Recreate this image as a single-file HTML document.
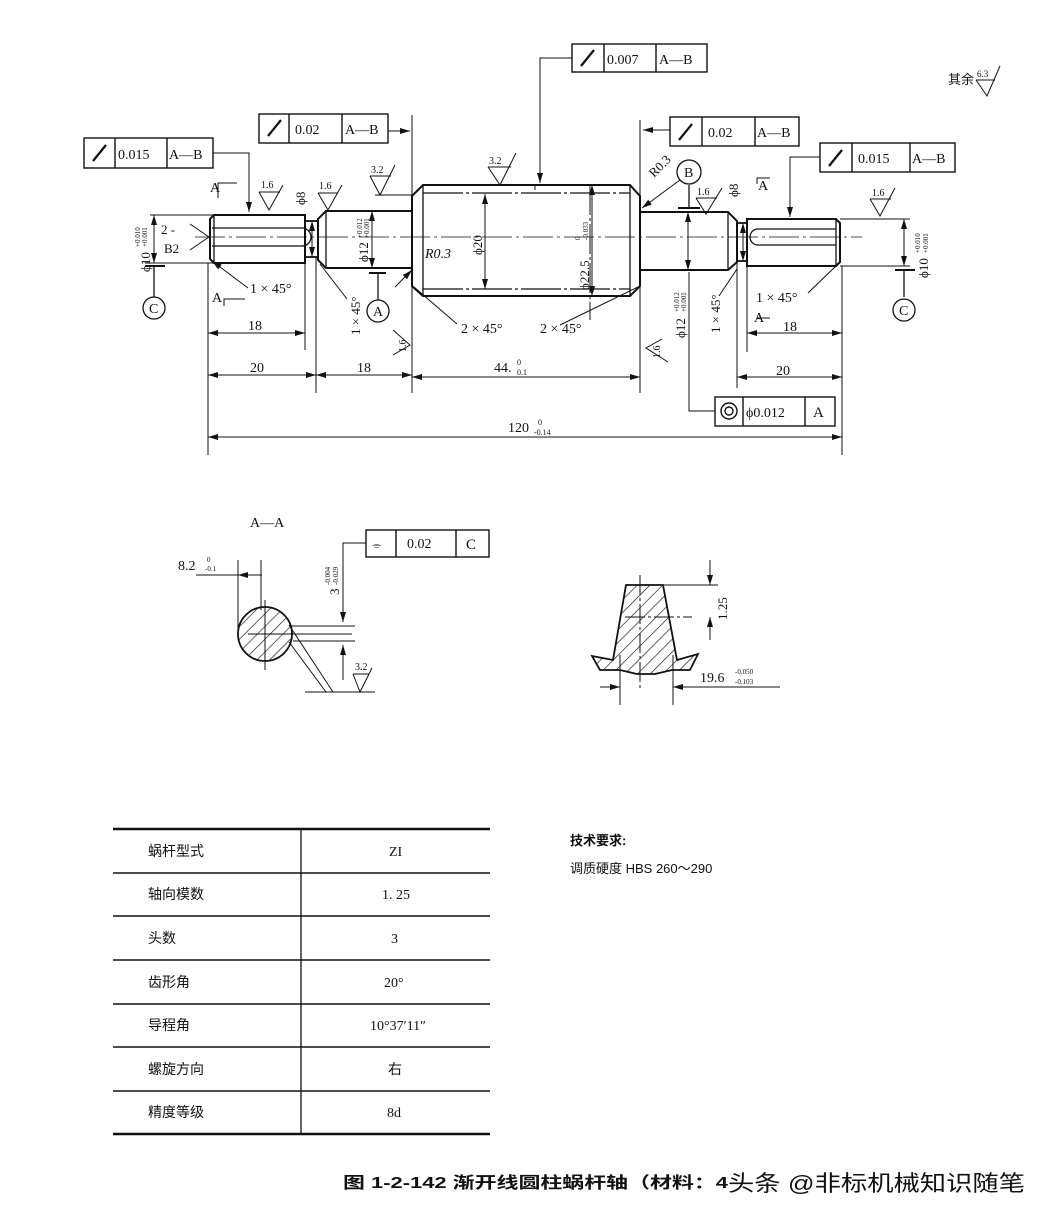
<!DOCTYPE html>
<html><head><meta charset="utf-8"><style>
html,body{margin:0;padding:0;background:#fff;}
svg{display:block}
text{font-family:"Liberation Serif","Noto Serif CJK SC",serif;fill:#111}
.c{font-family:"Liberation Sans","Noto Sans CJK SC",sans-serif}
</style></head><body>
<svg width="1050" height="1228" viewBox="0 0 1050 1228" xmlns="http://www.w3.org/2000/svg">
<defs>
<marker id="a" viewBox="0 0 10 6" refX="10" refY="3" markerWidth="10" markerHeight="6" orient="auto-start-reverse" markerUnits="userSpaceOnUse"><path d="M0,0L10,3L0,6z" fill="#111"/></marker>
<pattern id="h" width="9" height="9" patternUnits="userSpaceOnUse" patternTransform="rotate(45)"><line x1="0" y1="0" x2="0" y2="9" stroke="#111" stroke-width="1.3"/></pattern>
</defs>
<g stroke="#111" fill="none" stroke-width="1.3">
<line x1="195" y1="237" x2="862" y2="237" stroke-width="0.8" stroke-dasharray="30,4,3,4"/>
<path d="M214,215H305V263H214L210,259V219Z" stroke-width="2"/>
<line x1="214" y1="215" x2="214" y2="263"/>
<path d="M212,228H302A9,9 0 0 1 302,246H212" />
<rect x="305" y="221" width="13" height="36" stroke-width="1.8"/>
<path d="M318,219L326,211H412V268H326L318,260Z" stroke-width="2"/>
<line x1="326" y1="211" x2="326" y2="268"/>
<path d="M412,196L423,185H630L640,196V286L630,296H423L412,286Z" stroke-width="2"/>
<line x1="423" y1="185" x2="423" y2="296"/>
<line x1="630" y1="185" x2="630" y2="296"/>
<line x1="423" y1="193" x2="630" y2="193" stroke-dasharray="40,3,3,3"/>
<line x1="423" y1="289" x2="630" y2="289" stroke-dasharray="40,3,3,3"/>
<path d="M640,212H728L737,221V262L728,270H640Z" stroke-width="2"/>
<line x1="728" y1="212" x2="728" y2="270"/>
<rect x="737" y="223" width="10" height="38" stroke-width="1.8"/>
<path d="M747,219H836L840,223V262L836,266H747Z" stroke-width="2"/>
<line x1="836" y1="219" x2="836" y2="266"/>
<path d="M836,229H758A8,8 0 0 0 758,245H836"/>
<g stroke-width="1">
<line x1="208" y1="263" x2="208" y2="455"/>
<line x1="305" y1="263" x2="305" y2="350"/>
<line x1="316" y1="257" x2="316" y2="393"/>
<line x1="412" y1="115" x2="412" y2="393"/>
<line x1="640" y1="120" x2="640" y2="393"/>
<line x1="737" y1="262" x2="737" y2="388"/>
<line x1="747" y1="266" x2="747" y2="352"/>
<line x1="842" y1="266" x2="842" y2="455"/>
<line x1="150" y1="215" x2="214" y2="215"/><line x1="145" y1="263" x2="214" y2="263"/>
<line x1="840" y1="219" x2="910" y2="219"/><line x1="840" y1="266" x2="910" y2="266"/>
<line x1="375" y1="195" x2="412" y2="195"/>
<line x1="590" y1="185" x2="590" y2="320" stroke-dasharray="30,3,3,3"/>
<line x1="535" y1="184" x2="535" y2="190"/>
</g>
<g stroke-width="1" marker-start="url(#a)" marker-end="url(#a)">
<line x1="208" y1="333" x2="305" y2="333"/>
<line x1="208" y1="375" x2="316" y2="375"/>
<line x1="316" y1="375" x2="412" y2="375"/>
<line x1="412" y1="377" x2="640" y2="377"/>
<line x1="737" y1="377" x2="842" y2="377"/>
<line x1="747" y1="333" x2="842" y2="333"/>
<line x1="208" y1="437" x2="842" y2="437"/>
<line x1="154" y1="215" x2="154" y2="263"/>
<line x1="904" y1="219" x2="904" y2="266"/>
<line x1="372" y1="211" x2="372" y2="268"/>
<line x1="485" y1="194" x2="485" y2="289"/>
<line x1="592" y1="185" x2="592" y2="296"/>
<line x1="688" y1="212" x2="688" y2="270"/>
<line x1="312" y1="221" x2="312" y2="257"/>
<line x1="743" y1="223" x2="743" y2="261"/>
</g>
<line x1="145" y1="266" x2="165" y2="266" stroke-width="2"/><line x1="154" y1="266" x2="154" y2="297"/>
<circle cx="154" cy="308" r="11"/>
<line x1="895" y1="270" x2="915" y2="270" stroke-width="2"/><line x1="904" y1="270" x2="904" y2="297"/>
<circle cx="904" cy="310" r="11"/>
<line x1="369" y1="273" x2="386" y2="273" stroke-width="2"/><line x1="378" y1="273" x2="378" y2="300"/>
<circle cx="378" cy="311" r="11"/>
<line x1="678" y1="208" x2="700" y2="208" stroke-width="2"/><line x1="689" y1="208" x2="689" y2="185"/>
<circle cx="689" cy="172" r="12"/>
<g stroke-width="1">
<line x1="248" y1="288" x2="212" y2="261" marker-end="url(#a)"/>
<line x1="347" y1="299" x2="320" y2="264"/>
<line x1="395" y1="287" x2="412" y2="270" marker-end="url(#a)"/>
<line x1="457" y1="324" x2="414" y2="287"/>
<line x1="560" y1="325" x2="638" y2="287"/>
<line x1="719" y1="296" x2="737" y2="269"/>
<line x1="808" y1="293" x2="838" y2="264"/>
<line x1="680" y1="180" x2="642" y2="208" marker-end="url(#a)"/>
<line x1="190" y1="224" x2="209" y2="237"/><line x1="190" y1="250" x2="209" y2="237"/>
<polyline points="213,153 249,153 249,212" marker-end="url(#a)"/>
<polyline points="388,131 410,131" marker-end="url(#a)"/>
<polyline points="572,58 540,58 540,183" marker-end="url(#a)"/>
<polyline points="670,130 643,130" marker-end="url(#a)"/>
<polyline points="820,157 790,157 790,217" marker-end="url(#a)"/>
<polyline points="715,411 689,411 689,272" />
<polyline points="218,198 218,183 237,183" /><polyline points="224,306 224,299 245,299"/>
<polyline points="757,184 757,178 770,178"/><polyline points="757,318 770,318"/>
<polyline points="259,192 269,210 283,185"/><line x1="259" y1="192" x2="280" y2="192"/>
<polyline points="318,193 328,210 342,185"/><line x1="318" y1="193" x2="338" y2="193"/>
<polyline points="370,176 380,195 395,165"/><line x1="370" y1="176" x2="391" y2="176"/>
<polyline points="488,167 500,185 516,153"/><line x1="488" y1="167" x2="511" y2="167"/>
<polyline points="696,198 706,214 722,188"/><line x1="696" y1="198" x2="717" y2="198"/>
<polyline points="870,199 880,216 895,188"/><line x1="870" y1="199" x2="891" y2="199"/>
<polyline points="976,80 987,96 1000,66"/><line x1="976" y1="80" x2="995" y2="80" />
<polyline points="393,330 410,345 393,355"/>
<polyline points="662,339 646,348 668,362"/>
</g>
<g stroke-width="1.4">
<rect x="572" y="44" width="135" height="28"/><line x1="604" y1="44" x2="604" y2="72"/><line x1="656" y1="44" x2="656" y2="72"/>
<rect x="259" y="114" width="129" height="29"/><line x1="289" y1="114" x2="289" y2="143"/><line x1="342" y1="114" x2="342" y2="143"/>
<rect x="84" y="138" width="129" height="30"/><line x1="115" y1="138" x2="115" y2="168"/><line x1="167" y1="138" x2="167" y2="168"/>
<rect x="670" y="117" width="129" height="29"/><line x1="702" y1="117" x2="702" y2="146"/><line x1="755" y1="117" x2="755" y2="146"/>
<rect x="820" y="143" width="135" height="29"/><line x1="852" y1="143" x2="852" y2="172"/><line x1="910" y1="143" x2="910" y2="172"/>
<rect x="715" y="397" width="120" height="29"/><line x1="743" y1="397" x2="743" y2="426"/><line x1="805" y1="397" x2="805" y2="426"/>
<circle cx="729" cy="411" r="8"/><circle cx="729" cy="411" r="4"/>
<rect x="366" y="530" width="123" height="27"/><line x1="396" y1="530" x2="396" y2="557"/><line x1="456" y1="530" x2="456" y2="557"/>
</g>
<g stroke-width="2.2">
<line x1="268" y1="136" x2="281" y2="120"/><line x1="93" y1="161" x2="106" y2="145"/>
<line x1="581" y1="66" x2="594" y2="50"/><line x1="679" y1="140" x2="692" y2="124"/><line x1="829" y1="166" x2="842" y2="150"/>
</g>
<circle cx="265" cy="634" r="27" fill="url(#h)" stroke-width="1.8"/>
<line x1="248" y1="634" x2="352" y2="634" stroke-width="1"/>
<line x1="265" y1="600" x2="265" y2="670" stroke-width="1"/>
<line x1="238" y1="560" x2="238" y2="630" stroke-width="1"/><line x1="261" y1="560" x2="261" y2="610" stroke-width="1"/>
<line x1="196" y1="575" x2="261" y2="575" stroke-width="1"/>
<line x1="262" y1="575" x2="238" y2="575" stroke-width="1" marker-end="url(#a)"/>
<line x1="290" y1="626" x2="355" y2="626" stroke-width="1"/><line x1="293" y1="641" x2="355" y2="641" stroke-width="1"/>
<polyline points="366,543 343,543 343,622" stroke-width="1" marker-end="url(#a)"/>
<line x1="343" y1="680" x2="343" y2="645" stroke-width="1" marker-end="url(#a)"/>
<line x1="289" y1="625" x2="333" y2="692" stroke-width="1"/><line x1="289" y1="642" x2="326" y2="692" stroke-width="1"/>
<line x1="305" y1="692" x2="375" y2="692" stroke-width="1"/>
<polyline points="353,674 360,692 372,668" stroke-width="1"/><line x1="353" y1="674" x2="369" y2="674" stroke-width="1"/>
<path d="M626,585H663L677,660L698,654L690,670H672L655,674H637L620,670H600L592,656L613,660Z" fill="url(#h)" stroke-width="1.8"/>
<line x1="640" y1="575" x2="640" y2="690" stroke-width="1" stroke-dasharray="20,3,3,3"/>
<line x1="625" y1="617" x2="692" y2="617" stroke-width="1" stroke-dasharray="20,3,3,3"/>
<line x1="663" y1="585" x2="718" y2="585" stroke-width="1"/>
<line x1="710" y1="560" x2="710" y2="585" stroke-width="1" marker-end="url(#a)"/>
<line x1="710" y1="640" x2="710" y2="617" stroke-width="1" marker-end="url(#a)"/>
<line x1="620" y1="655" x2="620" y2="705" stroke-width="1"/><line x1="673" y1="655" x2="673" y2="705" stroke-width="1"/>
<line x1="600" y1="687" x2="620" y2="687" stroke-width="1" marker-end="url(#a)"/>
<line x1="690" y1="687" x2="673" y2="687" stroke-width="1" marker-end="url(#a)"/>
<line x1="673" y1="687" x2="780" y2="687" stroke-width="1"/>
<line x1="113" y1="829" x2="490" y2="829" stroke-width="2.4"/>
<line x1="113" y1="873" x2="490" y2="873" stroke-width="1.4"/>
<line x1="113" y1="916" x2="490" y2="916" stroke-width="1.4"/>
<line x1="113" y1="960" x2="490" y2="960" stroke-width="1.4"/>
<line x1="113" y1="1004" x2="490" y2="1004" stroke-width="1.4"/>
<line x1="113" y1="1047" x2="490" y2="1047" stroke-width="1.4"/>
<line x1="113" y1="1091" x2="490" y2="1091" stroke-width="1.4"/>
<line x1="113" y1="1134" x2="490" y2="1134" stroke-width="2.4"/>
<line x1="301" y1="829" x2="301" y2="1134" stroke-width="1.3"/>
</g>
<g font-size="13">
<text x="118" y="159" font-size="14">0.015</text><text x="169" y="159" font-size="14">A—B</text>
<text x="295" y="134" font-size="14">0.02</text><text x="345" y="134" font-size="14">A—B</text>
<text x="607" y="64" font-size="14">0.007</text><text x="659" y="64" font-size="14">A—B</text>
<text x="708" y="137" font-size="14">0.02</text><text x="757" y="137" font-size="14">A—B</text>
<text x="858" y="163" font-size="14">0.015</text><text x="912" y="163" font-size="14">A—B</text>
<text x="746" y="417" font-size="14">ϕ0.012</text><text x="813" y="417" font-size="15">A</text>
<text x="407" y="548" font-size="14">0.02</text><text x="466" y="549" font-size="15">C</text>
<text x="372" y="549" font-size="12">⌯</text>
<text x="948" y="84" class="c" font-size="13">其余</text><text x="977" y="77" font-size="9">6.3</text>
<text x="210" y="192" font-size="14">A</text><text x="212" y="302" font-size="14">A</text>
<text x="758" y="190" font-size="14">A</text><text x="754" y="322" font-size="14">A</text>
<text x="149" y="313" font-size="14">C</text><text x="899" y="315" font-size="14">C</text>
<text x="373" y="316" font-size="14">A</text><text x="684" y="177" font-size="14">B</text>
<text x="161" y="234" font-size="13">2 -</text><text x="164" y="253" font-size="13">B2</text>
<text x="250" y="293" font-size="14">1 × 45°</text>
<text x="756" y="302" font-size="14">1 × 45°</text>
<text x="461" y="333" font-size="14">2 × 45°</text><text x="540" y="333" font-size="14">2 × 45°</text>
<text x="425" y="258" font-size="14" font-style="italic">R0.3</text>
<text x="248" y="330" font-size="14">18</text><text x="250" y="372" font-size="14">20</text>
<text x="357" y="372" font-size="14">18</text><text x="494" y="372" font-size="14">44.</text><text x="517" y="365" font-size="8">0</text><text x="517" y="375" font-size="8">0.1</text>
<text x="776" y="375" font-size="14">20</text><text x="783" y="331" font-size="14">18</text>
<text x="508" y="432" font-size="14">120</text><text x="538" y="425" font-size="8">0</text><text x="534" y="435" font-size="8">-0.14</text>
<text x="261" y="188" font-size="10">1.6</text><text x="319" y="189" font-size="10">1.6</text><text x="371" y="173" font-size="10">3.2</text><text x="489" y="164" font-size="10">3.2</text>
<text x="697" y="195" font-size="10">1.6</text><text x="872" y="196" font-size="10">1.6</text>
<text x="355" y="670" font-size="10">3.2</text>
<text x="178" y="570" font-size="14">8.2</text><text x="207" y="562" font-size="7">0</text><text x="205" y="571" font-size="7">-0.1</text>
<text x="250" y="527" font-size="14">A—A</text>
<text x="700" y="682" font-size="14">19.6</text><text x="735" y="674" font-size="7">-0.050</text><text x="735" y="684" font-size="7">-0.103</text>
<g font-size="14">
<text x="148" y="856" class="c">蜗杆型式</text><text x="389" y="856">ZI</text>
<text x="148" y="899" class="c">轴向模数</text><text x="382" y="899">1. 25</text>
<text x="148" y="943" class="c">头数</text><text x="391" y="943">3</text>
<text x="148" y="987" class="c">齿形角</text><text x="384" y="987">20°</text>
<text x="148" y="1030" class="c">导程角</text><text x="370" y="1030">10°37′11″</text>
<text x="148" y="1074" class="c">螺旋方向</text><text x="388" y="1074" class="c">右</text>
<text x="148" y="1117" class="c">精度等级</text><text x="387" y="1117">8d</text>
</g>
<text x="570" y="845" class="c" font-weight="bold">技术要求:</text>
<text x="570" y="873" class="c">调质硬度 HBS 260～290</text>
<text x="343" y="1188" class="c" font-size="16" font-weight="bold" textLength="385" lengthAdjust="spacingAndGlyphs">图 1-2-142  渐开线圆柱蜗杆轴（材料：4</text>
<text x="728" y="1191" class="c" font-size="22" fill="#333" textLength="297" lengthAdjust="spacingAndGlyphs">头条 @非标机械知识随笔</text>
</g>
<g font-size="13">
<text transform="translate(150,272) rotate(-90)">ϕ10</text><text transform="translate(140,247) rotate(-90)" font-size="7">+0.010</text><text transform="translate(147,247) rotate(-90)" font-size="7">+0.001</text>
<text transform="translate(928,278) rotate(-90)">ϕ10</text><text transform="translate(920,253) rotate(-90)" font-size="7">+0.010</text><text transform="translate(928,253) rotate(-90)" font-size="7">+0.001</text>
<text transform="translate(368,262) rotate(-90)">ϕ12</text><text transform="translate(362,238) rotate(-90)" font-size="7">+0.012</text><text transform="translate(369,238) rotate(-90)" font-size="7">+0.001</text>
<text transform="translate(685,338) rotate(-90)">ϕ12</text><text transform="translate(679,312) rotate(-90)" font-size="7">+0.012</text><text transform="translate(686,312) rotate(-90)" font-size="7">+0.001</text>
<text transform="translate(482,255) rotate(-90)">ϕ20</text>
<text transform="translate(589,290) rotate(-90)">ϕ22.5</text><text transform="translate(580,240) rotate(-90)" font-size="7">0</text><text transform="translate(588,240) rotate(-90)" font-size="7">-0.033</text>
<text transform="translate(305,205) rotate(-90)">ϕ8</text><text transform="translate(738,197) rotate(-90)">ϕ8</text>
<text transform="translate(360,335) rotate(-90)">1 × 45°</text><text transform="translate(720,333) rotate(-90)">1 × 45°</text>
<text transform="translate(654,178) rotate(-45)">R0.3</text>
<text transform="translate(406,352) rotate(-90)" font-size="10">1.6</text><text transform="translate(660,358) rotate(-90)" font-size="10">1.6</text>
<text transform="translate(339,595) rotate(-90)">3</text><text transform="translate(330,585) rotate(-90)" font-size="7">-0.004</text><text transform="translate(338,585) rotate(-90)" font-size="7">-0.029</text>
<text transform="translate(727,620) rotate(-90)">1.25</text>
</g>
</svg>
</body></html>
